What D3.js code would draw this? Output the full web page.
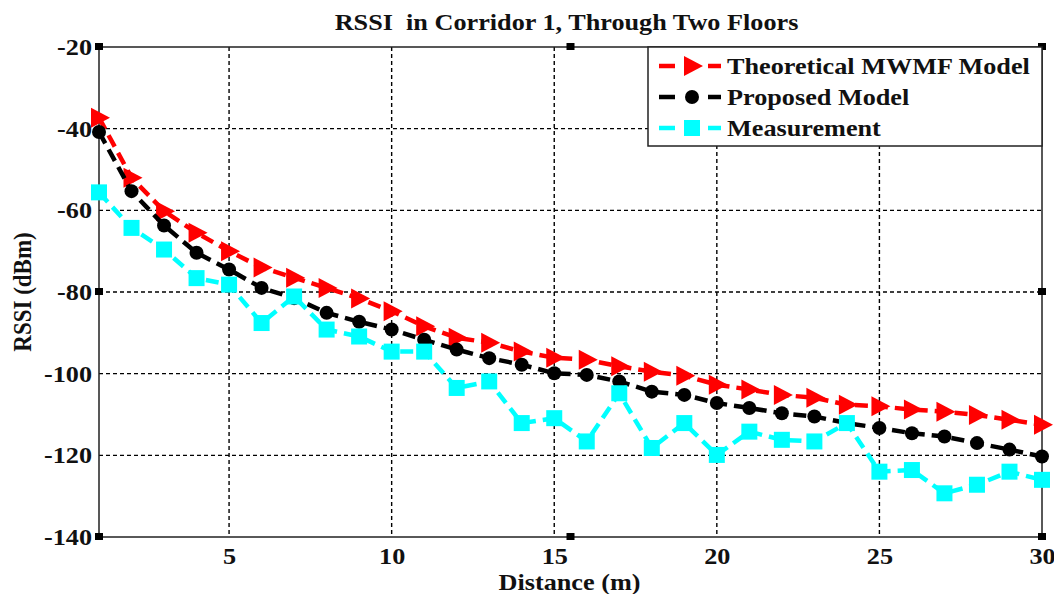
<!DOCTYPE html>
<html>
<head>
<meta charset="utf-8">
<script src="https://cdn.jsdelivr.net/npm/d3@7"></script>
<style>
  body { margin: 0; background: #fff; }
  text { font-family: "Liberation Serif", "Times New Roman", serif; font-weight: bold; }
</style>
</head>
<body>
<div id="graph"></div>
<script>
var distance = d3.range(1, 31);
var theoretical = [-37.3, -52.0, -60.2, -65.5, -70.0, -74.0, -76.5, -79.0, -81.6, -84.7,
    -88.4, -91.2, -92.4, -94.6, -96.1, -96.6, -98.2, -99.5, -100.5, -102.7,
    -103.9, -105.2, -105.9, -107.6, -108.0, -108.8, -109.3, -110.1, -111.3, -112.5];
var proposed = [-40.8, -55.3, -63.7, -70.4, -74.5, -79.0, -81.5, -85.1, -87.3, -89.2,
    -91.7, -94.1, -96.2, -97.8, -99.9, -100.3, -101.9, -104.4, -105.2, -107.2,
    -108.4, -109.7, -110.5, -112.1, -113.3, -114.6, -115.4, -117.0, -118.6, -120.3];
var measurement = [-55.6, -64.3, -69.6, -76.6, -78.2, -87.6, -81.1, -89.2, -90.9, -94.6,
    -94.6, -103.5, -101.9, -112.1, -110.9, -116.6, -104.8, -118.2, -112.1, -119.9,
    -114.2, -116.2, -116.6, -112.1, -124.0, -123.6, -129.3, -127.2, -124.0, -126.0];
var xTicks = [5, 10, 15, 20, 25, 30];
var yTicks = [-20, -40, -60, -80, -100, -120, -140];
var seriesNames = ["Theoretical MWMF Model", "Proposed Model", "Measurement"];

var series = [
    {name: seriesNames[0], values: theoretical, color: "#ff0000", marker: "tri"},
    {name: seriesNames[1], values: proposed, color: "#000000", marker: "circle"},
    {name: seriesNames[2], values: measurement, color: "#00ffff", marker: "square"}
];

var W = 1054, H = 594;
var margin = {top: 47, right: 12, bottom: 57, left: 99};
var width = W - margin.left - margin.right;
var height = H - margin.top - margin.bottom;
// the source picture is stretched sideways, so text gets squeezed back out
var stretch = 1.14;
var fontSize = "23px";

var x = d3.scaleLinear().domain([1, 30]).range([0, width]);
var y = d3.scaleLinear().domain([-140, -20]).range([height, 0]);

var svgRoot = d3.select("#graph").append("svg")
    .attr("width", W)
    .attr("height", H);
var svg = svgRoot.append("g")
    .attr("transform", "translate(" + margin.left + "," + margin.top + ")");

// grid
svg.append("g").selectAll("line").data(xTicks.filter(function(d) { return d < 30; }))
    .enter().append("line")
    .attr("x1", function(d) { return x(d); })
    .attr("x2", function(d) { return x(d); })
    .attr("y1", 0).attr("y2", height)
    .style("stroke", "#000").style("stroke-width", 1.4).style("stroke-dasharray", "4,3");
svg.append("g").selectAll("line").data(yTicks.slice(1, -1))
    .enter().append("line")
    .attr("x1", 0).attr("x2", width)
    .attr("y1", function(d) { return y(d); })
    .attr("y2", function(d) { return y(d); })
    .style("stroke", "#000").style("stroke-width", 1.4).style("stroke-dasharray", "4,3");

// axes box
svg.append("rect")
    .attr("width", width).attr("height", height)
    .style("fill", "none").style("stroke", "#222").style("stroke-width", 1.5);

// axis tick labels
var fmt = function(d) { return String(d); };
var xAxis = svg.append("g")
    .attr("transform", "translate(0," + height + ")")
    .call(d3.axisBottom(x).tickValues(xTicks).tickFormat(fmt).tickSize(0).tickPadding(11));
var yAxis = svg.append("g")
    .call(d3.axisLeft(y).tickValues(yTicks).tickFormat(fmt).tickSize(0).tickPadding(7));
[xAxis, yAxis].forEach(function(a) {
    a.attr("font-family", null).attr("font-size", null);
    a.select(".domain").remove();
    a.selectAll("text")
        .style("font-family", "'Liberation Serif', serif")
        .style("font-weight", "bold")
        .style("font-size", fontSize)
        .style("fill", "#111");
});
xAxis.selectAll(".tick text")
    .attr("transform", "scale(" + stretch + ",1)")
    .attr("x", 0);
yAxis.selectAll(".tick text").each(function() {
    var t = d3.select(this);
    t.attr("transform", "translate(-7,0) scale(" + stretch + ",1) translate(7,0)");
});

// corner square artifacts
var boxPts = [];
[1, 15.5, 30].forEach(function(a) {
    [-20, -80, -140].forEach(function(b) {
        if (a === 15.5 && b === -80) return;
        boxPts.push([a, b]);
    });
});
svg.append("g").selectAll("rect").data(boxPts)
    .enter().append("rect")
    .attr("x", function(d) { return x(d[0]) - 4; })
    .attr("y", function(d) { return y(d[1]) - 4; })
    .attr("width", 8).attr("height", 7)
    .style("fill", "#000");

// lines and markers
var line = d3.line()
    .x(function(d, i) { return x(distance[i]); })
    .y(function(d) { return y(d); });

function drawMarker(g, type, color) {
    if (type === "tri") {
        g.append("path").attr("d", "M-8,-10 L11,0 L-8,10 Z").style("fill", color);
    } else if (type === "circle") {
        g.append("circle").attr("r", 7).style("fill", color);
    } else {
        g.append("rect").attr("x", -8).attr("y", -8).attr("width", 16).attr("height", 16)
            .style("fill", color);
    }
}

series.forEach(function(s) {
    svg.append("path")
        .attr("d", line(s.values))
        .style("fill", "none")
        .style("stroke", s.color)
        .style("stroke-width", 4.5)
        .style("stroke-dasharray", "13,7");
    svg.append("g").selectAll("g").data(s.values)
        .enter().append("g")
        .attr("transform", function(d, i) { return "translate(" + x(distance[i]) + "," + y(d) + ")"; })
        .each(function() { drawMarker(d3.select(this), s.marker, s.color); });
});

// legend
var legX = 549, legW = width - legX, legH = 99;
var legend = svg.append("g").attr("transform", "translate(" + legX + ",0)");
legend.append("rect")
    .attr("width", legW).attr("height", legH)
    .style("fill", "#fff").style("stroke", "#222").style("stroke-width", 1.5);
series.forEach(function(s, i) {
    var row = legend.append("g").attr("transform", "translate(0," + (19 + i * 31) + ")");
    row.append("line").attr("x1", 11).attr("x2", 27).attr("y1", 0).attr("y2", 0)
        .style("stroke", s.color).style("stroke-width", 4.5);
    row.append("line").attr("x1", 60).attr("x2", 73).attr("y1", 0).attr("y2", 0)
        .style("stroke", s.color).style("stroke-width", 4.5);
    var m = row.append("g").attr("transform", "translate(44,0)");
    drawMarker(m, s.marker, s.color);
    row.append("text")
        .attr("transform", "translate(79,8) scale(" + stretch + ",1)")
        .style("font-size", fontSize)
        .style("fill", "#111")
        .text(s.name);
});

// title and labels
svgRoot.append("text")
    .attr("transform", "translate(" + (margin.left + width / 2 - 4) + ",30) scale(" + stretch + ",1)")
    .attr("text-anchor", "middle")
    .style("font-size", fontSize)
    .style("white-space", "pre")
    .style("fill", "#111")
    .text("RSSI  in Corridor 1, Through Two Floors");
svgRoot.append("text")
    .attr("transform", "translate(" + (margin.left + width / 2 - 1) + ",590) scale(" + stretch + ",1)")
    .attr("text-anchor", "middle")
    .style("font-size", fontSize)
    .style("fill", "#111")
    .text("Distance (m)");
svgRoot.append("text")
    .attr("transform", "translate(31," + (margin.top + height / 2) + ") scale(" + stretch + ",1) rotate(-90)")
    .attr("text-anchor", "middle")
    .style("font-size", fontSize)
    .style("fill", "#111")
    .text("RSSI (dBm)");
</script>
</body>
</html>
